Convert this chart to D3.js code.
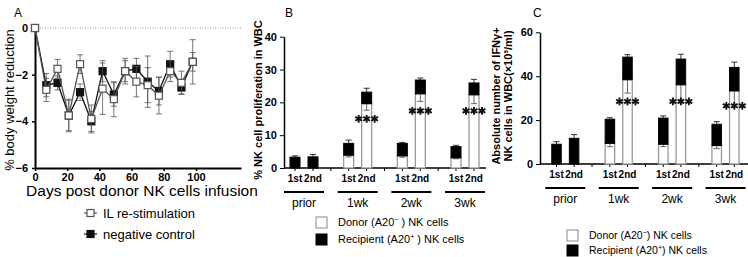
<!DOCTYPE html>
<html lang="en">
<head>
<meta charset="UTF-8">
<title>NK cells figure</title>
<script src="https://d3js.org/d3.v7.min.js"></script>
<style>
  body { margin: 0; background: #fff; }
  svg { font-family: "Liberation Sans", Arial, sans-serif; }
  .tick text { font-weight: bold; }
</style>
</head>
<body>
<svg id="fig" width="748" height="257"></svg>
<script>
// ---- Panel A data (weekly body weight change) ----
const days = [0, 7, 14, 21, 28, 35, 42, 49, 56, 63, 70, 77, 84, 91, 98];
const ilMean  = [0, -2.65, -1.75, -3.75, -1.55, -3.9, -2.6, -3.05, -1.85, -2.3, -2.45, -2.9, -1.85, -2.35, -1.45];
const ilErr   = [0, 0.5, 0.4, 0.7, 0.4, 0.6, 1.1, 0.75, 0.45, 0.65, 0.75, 0.78, 0.45, 0.5, 0.4];
const negMean = [0, -2.45, -2.35, -3.75, -2.75, -4.0, -1.85, -2.85, -1.85, -1.75, -2.3, -2.7, -1.55, -2.55, -1.45];
const negErr  = [0, 0.5, 0.3, 0.65, 0.35, 0.43, 0.45, 0.5, 0.55, 0.45, 1.1, 0.6, 0.55, 0.27, 0.95];

// ---- Panels B and C: groups x rounds ----
const groups = ["prior", "1wk", "2wk", "3wk"];
const rounds = ["1st", "2nd"];

// B: % NK cell proliferation in WBC (order: prior1st, prior2nd, 1wk1st, ...)
const bDonor     = [0, 0, 3.9, 19.6, 3.7, 22.6, 3.1, 22.3];
const bTotal     = [3.3, 3.4, 7.5, 23.1, 7.5, 26.8, 6.5, 25.9];
const bTotalErr  = [0.4, 0.7, 1.0, 1.2, 0.3, 0.6, 0.4, 1.1];
const bDonorErr  = [0, 0, 0.5, 2.0, 0.4, 2.3, 0.3, 2.7];
const bStars     = [15, 17.4, 17.4];   // *** level for 1wk, 2wk, 3wk 2nd

// C: Absolute number of IFNγ+ NK cells
const cDonor     = [0, 0, 9.4, 38.4, 9.0, 36.1, 8.4, 33.3];
const cTotal     = [9.0, 11.7, 20.4, 48.7, 20.9, 47.8, 18.1, 44.0];
const cTotalErr  = [1.2, 1.7, 0.7, 1.1, 1.0, 2.2, 1.2, 2.4];
const cDonorErr  = [0, 0, 1.5, 6.1, 1.1, 6.9, 1.4, 6.3];
const cStars     = [28.5, 28.5, 26.5];

const svg = d3.select("#fig");

// ================= Panel A =================
const xA = d3.scaleLinear().domain([0, 128]).range([35, 241]);
const yA = d3.scaleLinear().domain([-6, 0]).range([168, 28]);

svg.append("text").attr("x", 14).attr("y", 17).attr("font-size", 12).text("A");

// dotted zero line
svg.append("line")
  .attr("x1", xA(0)).attr("x2", xA(128))
  .attr("y1", yA(0)).attr("y2", yA(0))
  .attr("stroke", "#999").attr("stroke-dasharray", "1,1.5").attr("stroke-width", 1);

const axAx = svg.append("g")
  .attr("transform", `translate(0,${yA(-6)})`)
  .call(d3.axisBottom(xA).tickValues([0, 20, 40, 60, 80, 100]).tickSize(3).tickSizeOuter(0));
const axAy = svg.append("g")
  .attr("transform", `translate(${xA(0)},0)`)
  .call(d3.axisLeft(yA).tickValues([0, -2, -4, -6]).tickFormat(d3.format("d")).tickSize(3).tickSizeOuter(0));
[axAx, axAy].forEach(g => {
  g.select(".domain").attr("stroke-width", 2);
  g.selectAll(".tick line").attr("stroke-width", 1.5);
  g.selectAll(".tick text").attr("font-size", 11).attr("fill", "#000");
});
axAx.selectAll(".tick text").attr("dy", "0.6em");
axAy.selectAll(".tick text").attr("dx", "-1");

svg.append("text")
  .attr("transform", `translate(14,${(yA(0) + yA(-6)) / 2 + 2}) rotate(-90)`)
  .attr("text-anchor", "middle").attr("font-size", 13)
  .text("% body weight reduction");
svg.append("text")
  .attr("x", 142).attr("y", 196).attr("text-anchor", "middle").attr("font-size", 15.5)
  .text("Days post donor NK cells infusion");

function drawSeries(mean, err, color, fill) {
  const g = svg.append("g");
  days.forEach((d, i) => {
    if (!err[i]) return;
    const x = xA(d), y0 = yA(mean[i] - err[i]), y1 = yA(mean[i] + err[i]);
    g.append("line").attr("x1", x).attr("x2", x).attr("y1", y0).attr("y2", y1)
      .attr("stroke", "#555").attr("stroke-width", 0.8);
    [y0, y1].forEach(y => g.append("line")
      .attr("x1", x - 3).attr("x2", x + 3).attr("y1", y).attr("y2", y)
      .attr("stroke", "#555").attr("stroke-width", 0.8));
  });
  g.append("path")
    .datum(days.map((d, i) => [d, mean[i]]))
    .attr("fill", "none").attr("stroke", color).attr("stroke-width", 1.3)
    .attr("d", d3.line().x(d => xA(d[0])).y(d => yA(d[1])));
  g.selectAll("rect").data(days).join("rect")
    .attr("x", (d, i) => xA(d) - 3.5).attr("y", (d, i) => yA(mean[i]) - 3.5)
    .attr("width", 7).attr("height", 7)
    .attr("fill", fill).attr("stroke", color).attr("stroke-width", 1.2);
}
drawSeries(negMean, negErr, "#111", "#111");
drawSeries(ilMean, ilErr, "#555", "#fff");

// legend A
const legA = [["IL re-stimulation", "#555", "#fff"], ["negative control", "#111", "#111"]];
legA.forEach((l, i) => {
  const y = 213 + i * 21;
  svg.append("line").attr("x1", 84).attr("x2", 97).attr("y1", y).attr("y2", y)
    .attr("stroke", l[1]).attr("stroke-width", 1.2);
  svg.append("rect").attr("x", 87).attr("y", y - 3.5).attr("width", 7).attr("height", 7)
    .attr("fill", l[2]).attr("stroke", l[1]).attr("stroke-width", 1.2);
  svg.append("text").attr("x", 103).attr("y", y + 5).attr("font-size", 13).text(l[0]);
});

// ================= Bar panels =================
const starPath = d3.symbol(d3.symbolAsterisk, 42)();

function barPanel(o) {
  const y = d3.scaleLinear().domain([0, o.ymax]).range([o.y0, o.ytop]);
  const xg = d3.scalePoint().domain(groups).range(o.groupRange);
  const xs = d3.scalePoint().domain(rounds).range([-o.half, o.half]);
  const g = svg.append("g");

  g.append("text").attr("x", o.letterX).attr("y", 17).attr("font-size", 12).text(o.letter);

  // y axis
  const ya = g.append("g").attr("transform", `translate(${o.axisX},0)`)
    .call(d3.axisLeft(y).ticks(4).tickSize(4).tickSizeOuter(0));
  ya.select(".domain").attr("stroke-width", 1.5);
  ya.selectAll(".tick text").attr("font-size", 11).attr("fill", "#000");

  // x axis line + ticks
  g.append("line").attr("x1", o.axisX).attr("x2", o.axisEnd)
    .attr("y1", o.y0).attr("y2", o.y0).attr("stroke", "#000").attr("stroke-width", 1.5);
  const step = xg.step();
  groups.forEach((gr, gi) => {
    if (gi > 0) {
      const xm = xg(gr) - step / 2;
      g.append("line").attr("x1", xm).attr("x2", xm).attr("y1", o.y0).attr("y2", o.y0 + 3)
        .attr("stroke", "#000");
    }
    rounds.forEach(r => {
      const x = xg(gr) + xs(r);
      g.append("line").attr("x1", x).attr("x2", x).attr("y1", o.y0).attr("y2", o.y0 + 3)
        .attr("stroke", "#000");
      g.append("text").attr("x", x).attr("y", o.y0 + 14).attr("text-anchor", "middle")
        .attr("font-size", 10).attr("font-weight", "bold").text(r);
    });
    g.append("line").attr("x1", xg(gr) - 20).attr("x2", xg(gr) + 20)
      .attr("y1", o.lineY).attr("y2", o.lineY).attr("stroke", "#000").attr("stroke-width", 2);
    g.append("text").attr("x", xg(gr)).attr("y", o.lineY + 15).attr("text-anchor", "middle")
      .attr("font-size", 12).text(gr);
  });

  // bars
  const rows = [];
  groups.forEach((gr, gi) => rounds.forEach((r, ri) => rows.push({ gr, r, i: gi * 2 + ri })));
  rows.forEach(d => {
    const xc = xg(d.gr) + xs(d.r), bw = o.barW;
    const dn = o.donor[d.i], tot = o.total[d.i];
    // total error (top)
    const yt = y(tot + o.totErr[d.i]);
    g.append("line").attr("x1", xc).attr("x2", xc).attr("y1", y(tot)).attr("y2", yt)
      .attr("stroke", "#333").attr("stroke-width", 1);
    g.append("line").attr("x1", xc - 3).attr("x2", xc + 3).attr("y1", yt).attr("y2", yt)
      .attr("stroke", "#333").attr("stroke-width", 1);
    if (dn > 0) {
      g.append("rect").attr("x", xc - bw / 2).attr("y", y(dn)).attr("width", bw)
        .attr("height", y(0) - y(dn)).attr("fill", "#fff").attr("stroke", "#999").attr("stroke-width", 1.3);
      const yl = y(dn - o.donorErr[d.i]);
      g.append("line").attr("x1", xc).attr("x2", xc).attr("y1", y(dn)).attr("y2", yl)
        .attr("stroke", "#666").attr("stroke-width", 1);
      g.append("line").attr("x1", xc - 3).attr("x2", xc + 3).attr("y1", yl).attr("y2", yl)
        .attr("stroke", "#666").attr("stroke-width", 1);
    }
    g.append("rect").attr("x", xc - bw / 2).attr("y", y(tot)).attr("width", bw)
      .attr("height", y(dn) - y(tot)).attr("fill", "#000").attr("stroke", "#000").attr("stroke-width", 1);
  });

  // significance stars
  groups.slice(1).forEach((gr, k) => {
    const xc = xg(gr) + xs("2nd");
    [-8, 0, 8].forEach(dx => g.append("path")
      .attr("d", starPath)
      .attr("transform", `translate(${xc + dx},${y(o.stars[k])})`)
      .attr("fill", "none").attr("stroke", "#111").attr("stroke-width", 1.9));
  });

  // y label
  const yl = g.append("text")
    .attr("transform", `translate(${o.labelX},${o.labelY}) rotate(-90)`)
    .attr("text-anchor", "middle").attr("font-size", 11).attr("font-weight", "bold");
  o.ylabel.forEach((t, k) => yl.append("tspan").attr("x", 0).attr("dy", k ? 12 : 0).text(t));

  // legend
  const leg = [["#fff", "#888", "Donor (A20", "−", o.legGap + ") NK cells"],
               ["#000", "#000", "Recipient (A20", "+", o.legGap + ") NK cells"]];
  leg.forEach((l, k) => {
    const ly = o.legY + k * o.legStep;
    g.append("rect").attr("x", o.legX).attr("y", ly - 5).attr("width", 11).attr("height", 11)
      .attr("fill", l[0]).attr("stroke", l[1]);
    const t = g.append("text").attr("x", o.legX + 22).attr("y", ly + 4).attr("font-size", o.legFont);
    t.append("tspan").text(l[2]);
    t.append("tspan").attr("font-size", 7).attr("dy", -4).text(l[3]);
    t.append("tspan").attr("dy", 4).text(l[4]);
  });
}

barPanel({
  letter: "B", letterX: 285,
  ymax: 40, y0: 168, ytop: 36.7, axisX: 284, axisEnd: 486,
  groupRange: [304, 465], half: 9, barW: 10, lineY: 192,
  donor: bDonor, total: bTotal, totErr: bTotalErr, donorErr: bDonorErr, stars: bStars,
  ylabel: ["% NK cell proliferation in WBC"], labelX: 262, labelY: 100,
  legX: 316, legY: 222, legStep: 17, legGap: " ", legFont: 11
});

barPanel({
  letter: "C", letterX: 533,
  ymax: 60, y0: 164, ytop: 32.3, axisX: 540, axisEnd: 748,
  groupRange: [565.3, 725.5], half: 8.8, barW: 9.5, lineY: 188,
  donor: cDonor, total: cTotal, totErr: cTotalErr, donorErr: cDonorErr, stars: cStars,
  ylabel: ["Absolute number of IFNγ+", "NK cells in WBC(×10³/ml)"], labelX: 500, labelY: 96,
  legX: 567, legY: 235, legStep: 15, legGap: "", legFont: 10.5
});
</script>
</body>
</html>
